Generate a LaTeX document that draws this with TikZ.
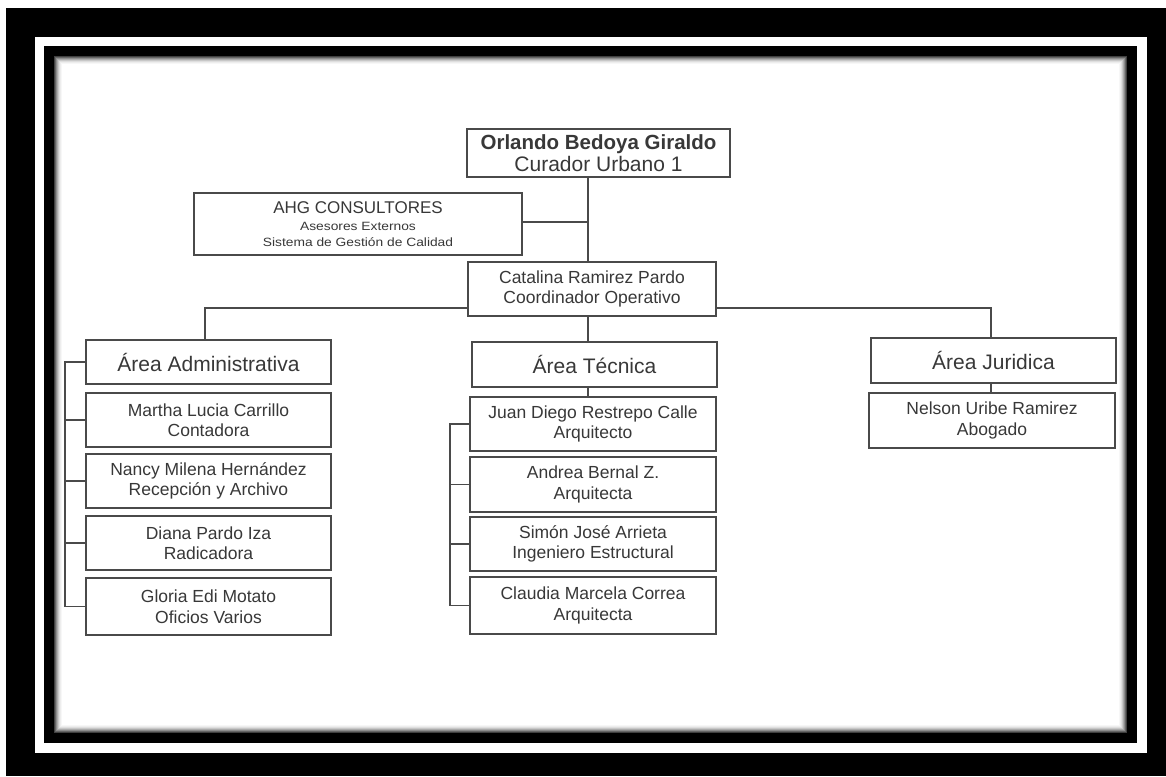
\documentclass[tikz,border=0pt]{standalone}
\usepackage{fontspec}
\usepackage{graphicx}
\setmainfont{Liberation Sans}
\usetikzlibrary{calc}
\definecolor{txt}{HTML}{383838}
\definecolor{ln}{HTML}{4A4A4A}
\newcommand{\smallwide}[1]{\scalebox{1.15}[1]{\fontsize{12}{16}\selectfont #1}}
\begin{document}
\begin{tikzpicture}[x=1pt,y=-1pt,
  box/.style={draw=ln,line width=1.4pt,fill=white,inner sep=0pt,align=center,text=txt,font=\fontsize{17.5}{20.5}\selectfont},
  head/.style={box,font=\fontsize{21}{24}\selectfont},
  con/.style={draw=ln,line width=1.4pt}]
\useasboundingbox (0,0) rectangle (1166,776);
% frame
\fill[white] (0,0) rectangle (1166,776);
\fill[black] (6,8) rectangle (1166,776);
\fill[white] (35,37) rectangle (1147,753);
\fill[black] (44,46) rectangle (1137,743);
\fill[white] (54,56) rectangle (1127,733);
\foreach \i/\c in {0.5/75,1.5/60,2.5/45,3.5/33,4.5/22,5.5/13,6.5/7,7.5/3}{
  \draw[black!\c,line width=1pt] (54+\i,56+\i) rectangle (1127-\i,733-\i);
}
% nodes
\node[box,minimum width=263,minimum height=48] (orl) at (598.5,153)
  {{\fontsize{20.5}{22}\selectfont\bfseries Orlando Bedoya Giraldo}\\[1pt]{\fontsize{21}{22}\selectfont Curador Urbano 1}};
\node[box,minimum width=328,minimum height=62,font=\fontsize{12}{16}\selectfont] (ahg) at (358,224)
  {{\fontsize{17}{16}\selectfont AHG CONSULTORES}\\[1pt]\smallwide{Asesores Externos}\\\smallwide{Sistema de Gesti\'on de Calidad}};
\node[box,minimum width=248,minimum height=54] (cat) at (592,289) {Catalina Ramirez Pardo\\Coordinador Operativo};

\node[head,minimum width=245,minimum height=44] (adm) at (208.5,362) {\'Area Administrativa};
\node[box,minimum width=245,minimum height=54] (mar) at (208.5,420) {Martha Lucia Carrillo\\Contadora};
\node[box,minimum width=245,minimum height=54] (nan) at (208.5,481) {Nancy Milena Hern\'andez\\Recepci\'on y Archivo};
\node[box,minimum width=245,minimum height=54] (dia) at (208.5,543) {Diana Pardo Iza\\Radicadora};
\node[box,minimum width=245,minimum height=57] (glo) at (208.5,606.5) {Gloria Edi Motato\\Oficios Varios};

\node[head,minimum width=245,minimum height=45] (tec) at (594.5,364.5) {\'Area T\'ecnica};
\node[box,minimum width=246,minimum height=54] (jua) at (593,424) {Juan Diego Restrepo Calle\\Arquitecto};
\node[box,minimum width=246,minimum height=55] (and) at (593,484.5) {Andrea Bernal Z.\\Arquitecta};
\node[box,minimum width=246,minimum height=54] (sim) at (593,544) {Sim\'on Jos\'e Arrieta\\Ingeniero Estructural};
\node[box,minimum width=246,minimum height=57] (cla) at (593,605.5) {Claudia Marcela Correa\\Arquitecta};

\node[head,minimum width=245,minimum height=45] (jur) at (993.5,360.5) {\'Area Juridica};
\node[box,minimum width=246,minimum height=55] (nel) at (992,420.5) {Nelson Uribe Ramirez\\Abogado};

% connectors
\coordinate (trunk) at (588,0);
\coordinate (hl) at (205,308);
\coordinate (hr) at (991,308);
\coordinate (ab) at (65,0);
\coordinate (tb) at (450,0);
\draw[con] (trunk |- orl.south) -- (trunk |- cat.north);
\draw[con] ([yshift=2pt]ahg.east) -- ([yshift=2pt]ahg.east -| trunk);
\draw[con] (hl |- adm.north) -- (hl) -- (hl -| cat.west);
\draw[con] (hr -| cat.east) -- (hr) -- (hr |- jur.north);
\draw[con] (trunk |- cat.south) -- (trunk |- tec.north);
\draw[con] (trunk |- tec.south) -- (trunk |- jua.north);
\draw[con] (hr |- jur.south) -- (hr |- nel.north);
\draw[con] (adm.west) -- (adm.west -| ab) -- (glo.west -| ab) -- (glo.west);
\draw[con] (mar.west) -- (mar.west -| ab);
\draw[con] (nan.west) -- (nan.west -| ab);
\draw[con] (dia.west) -- (dia.west -| ab);
\draw[con] (jua.west) -- (jua.west -| tb) -- (cla.west -| tb) -- (cla.west);
\draw[con] (and.west) -- (and.west -| tb);
\draw[con] (sim.west) -- (sim.west -| tb);
\end{tikzpicture}
\end{document}
